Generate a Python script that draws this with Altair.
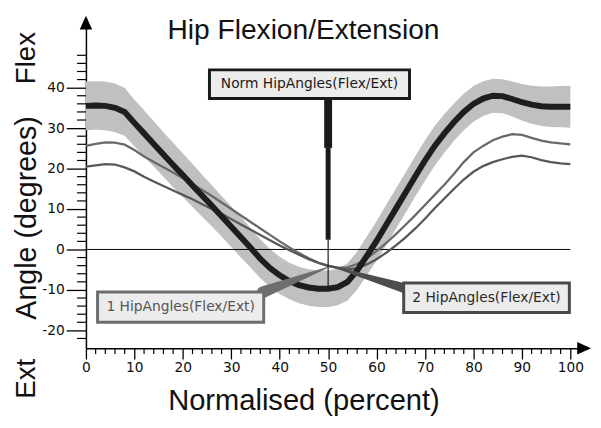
import altair as alt
import pandas as pd

# ---------------- data ----------------
x_pct = list(range(0, 101, 2))
norm_mean = [35.5, 35.6, 35.5, 35.0, 34.0, 31.3, 28.7, 26.1, 23.5, 20.9,
             18.4, 15.8, 13.3, 10.8, 8.2, 5.6, 3.0, 0.4, -2.3, -4.6,
             -6.4, -7.8, -8.8, -9.4, -9.7, -9.7, -9.3, -8.0, -5.2, -1.6,
             2.1, 6.1, 10.1, 14.1, 18.1, 22.0, 25.6, 28.7, 31.5, 34.0,
             36.0, 37.3, 38.0, 37.9, 37.2, 36.4, 35.8, 35.4, 35.3, 35.3, 35.3]
norm_sd = [6.0, 6.0, 6.0, 6.0, 5.9,
           5.8, 5.7, 5.6, 5.5, 5.5, 5.4,
           5.3, 5.2, 5.1, 5.0, 5.0, 5.0, 4.9, 4.8, 4.7, 4.6,
           4.5, 4.5, 4.5, 4.5, 4.5, 4.5, 4.6, 4.7, 4.8, 4.9,
           5.0, 5.0, 5.0, 5.0, 5.0, 4.9, 4.8, 4.6, 4.5, 4.4,
           4.3, 4.2, 4.2, 4.3, 4.5, 4.7, 4.9, 5.0, 5.1, 5.2]
hip1 = [25.6, 26.1, 26.5, 26.4, 25.9, 24.6, 23.0, 21.6, 20.3, 19.0,
        17.6, 16.2, 14.7, 13.2, 11.6, 10.0, 8.4, 6.8, 5.2, 3.6,
        2.0, 0.5, -0.9, -2.2, -3.3, -4.1, -4.5, -4.4, -3.6, -2.2,
        -0.4, 1.6, 3.8, 6.1, 8.5, 11.0, 13.5, 16.0, 18.7, 21.6,
        24.0, 25.6, 27.0, 27.9, 28.5, 28.3, 27.6, 26.9, 26.5, 26.2, 26.0]
hip2 = [20.5, 20.8, 21.1, 21.0, 20.3, 19.3, 18.0, 16.8, 15.7, 14.6,
        13.5, 12.4, 11.2, 10.0, 8.8, 7.5, 6.2, 4.9, 3.6, 2.3,
        1.0, -0.2, -1.3, -2.4, -3.3, -4.0, -4.6, -4.9, -4.6, -3.7,
        -2.4, -0.8, 1.0, 3.0, 5.2, 7.6, 10.2, 12.6, 15.0, 17.3,
        19.2, 20.6, 21.6, 22.3, 22.9, 23.2, 22.8, 22.1, 21.6, 21.3, 21.1]

x_major = [0, 10, 20, 30, 40, 50, 60, 70, 80, 90, 100]
x_minor = [v for v in range(0, 101, 2) if v % 10 != 0]
y_major = [-20, -10, 0, 10, 20, 30, 40]
y_minor = [v for v in range(-22, 49, 2) if v % 10 != 0]

# callouts
box_labels = ["Norm HipAngles(Flex/Ext)", "1 HipAngles(Flex/Ext)", "2 HipAngles(Flex/Ext)"]
box_x1 = [25.5, 2.4, 65.6]
box_x2 = [66.8, 36.7, 99.8]
box_y1 = [37.3, -10.5, -8.3]
box_y2 = [44.4, -18.0, -15.6]
box_stroke = ["#1a1a1a", "#6e6e6e", "#4a4a4a"]
box_text = ["#1a1a1a", "#555555", "#2a2a2a"]

# wedge pointers (trail): id, x, y, width
wedge_id = ["w1", "w1", "w2", "w2"]
wedge_x = [36.5, 50.0, 65.8, 50.6]
wedge_y = [-10.6, -4.4, -9.6, -4.1]
wedge_w = [12, 1, 10, 1]
wedge_col = ["#6e6e6e", "#6e6e6e", "#4d4d4d", "#4d4d4d"]

# norm pointer (stepped)
np_y1 = [37.3, 25.1, 2.4]
np_y2 = [25.1, 2.4, -9.7]
np_w = [8, 5, 1.2]

# ---------------- frames ----------------
df = pd.DataFrame({"pct": x_pct, "mean": norm_mean, "sd": norm_sd})
df["lo"] = df["mean"] - df["sd"]
df["hi"] = df["mean"] + df["sd"]
lines = pd.DataFrame({
    "pct": x_pct * 2,
    "val": hip1 + hip2,
    "series": ["1"] * len(x_pct) + ["2"] * len(x_pct),
})
boxes = pd.DataFrame({"x1": box_x1, "x2": box_x2, "y1": box_y1, "y2": box_y2,
                      "label": box_labels, "stroke": box_stroke, "tcol": box_text})
boxes["xc"] = (boxes["x1"] + boxes["x2"]) / 2
boxes["yc"] = (boxes["y1"] + boxes["y2"]) / 2
wedges = pd.DataFrame({"id": wedge_id, "x": wedge_x, "y": wedge_y, "w": wedge_w,
                       "col": wedge_col, "o": [0, 1, 0, 1]})
npdf = pd.DataFrame({"x": [50] * 3, "y1": np_y1, "y2": np_y2, "w": np_w})

W, H = 508, 335
xscale = alt.Scale(domain=[0, 103.46], nice=False, zero=False)
yscale = alt.Scale(domain=[-24.4, 57.3], nice=False, zero=False)
FONT = "Liberation Sans"

xaxis = alt.Axis(values=x_major, tickSize=11, tickColor="black", tickWidth=1.3,
                 domainColor="black", domainWidth=1.5, labelFont="DejaVu Sans",
                 labelFontSize=14, labelColor="#111111", labelPadding=2, grid=False,
                 title=None, labelFlush=False, labelOverlap=False)
yaxis = alt.Axis(values=y_major, tickSize=20, tickColor="black", tickWidth=1.3,
                 domainColor="black", domainWidth=1.5, labelFont="DejaVu Sans",
                 labelFontSize=14, labelColor="#111111", labelPadding=2, grid=False,
                 title=None, labelExpr="datum.value + ''", labelOverlap=False)


def X(f):
    return alt.X(f, type="quantitative", scale=xscale, axis=xaxis, title=None)


def Y(f):
    return alt.Y(f, type="quantitative", scale=yscale, axis=yaxis, title=None)


band = alt.Chart(df).mark_area(color="#c0c0c0", opacity=1).encode(
    x=X("pct"), y=Y("lo"), y2="hi")

zero = alt.Chart(pd.DataFrame({"a": [0], "b": [100], "y": [0]})).mark_rule(
    color="black", strokeWidth=1).encode(x=X("a"), x2="b", y=Y("y"))

grey = alt.Chart(lines).mark_line(strokeWidth=2.3).encode(
    x=X("pct"), y=Y("val"),
    color=alt.Color("series:N", scale=alt.Scale(domain=["1", "2"], range=["#6a6a6a", "#585858"]),
                    legend=None))

normline = alt.Chart(df).mark_line(color="#1e1e1e", strokeWidth=6).encode(
    x=X("pct"), y=Y("mean"))

npointer = alt.Chart(npdf).mark_rule(color="#1a1a1a").encode(
    x=X("x"), y=Y("y1"), y2="y2", strokeWidth=alt.StrokeWidth("w:Q", scale=None))

wedge = alt.Chart(wedges).mark_trail().encode(
    x=X("x"), y=Y("y"), detail="id:N", order="o:Q",
    size=alt.Size("w:Q", scale=None, legend=None),
    color=alt.Color("col:N", scale=None))

rect = alt.Chart(boxes).mark_rect(fill="#ececec", strokeWidth=3).encode(
    x=X("x1"), x2="x2", y=Y("y1"), y2="y2",
    stroke=alt.Stroke("stroke:N", scale=None))

rtext = alt.Chart(boxes).mark_text(font="DejaVu Sans", fontSize=14, baseline="middle",
                                   align="center").encode(
    x=X("xc"), y=Y("yc"), text="label:N", color=alt.Color("tcol:N", scale=None))

ymin = alt.Chart(pd.DataFrame({"v": y_minor})).mark_rule(color="black", strokeWidth=1.2).encode(
    y=Y("v"), x=alt.value(-9), x2=alt.value(0))
xmin = alt.Chart(pd.DataFrame({"v": x_minor})).mark_rule(color="black", strokeWidth=1.2).encode(
    x=X("v"), y=alt.value(H), y2=alt.value(H + 6))

one = pd.DataFrame({"a": [0]})
arrow_up = alt.Chart(one).mark_point(shape="M0,-1L0.9,1L-0.9,1Z", filled=True, size=196,
                                     color="black", opacity=1).encode(
    x=alt.value(0), y=alt.value(5))
arrow_right = alt.Chart(one).mark_point(shape="M1,0L-1,-0.9L-1,0.9Z", filled=True, size=196,
                                        color="black", opacity=1).encode(
    x=alt.value(505), y=alt.value(H))

title = alt.Chart(one).mark_text(text="Hip Flexion/Extension", font=FONT, fontSize=28.5,
                                 align="center", baseline="alphabetic", color="#111111").encode(
    x=alt.value(220.5), y=alt.value(22))
xtitle = alt.Chart(one).mark_text(text="Normalised (percent)", font=FONT, fontSize=29.5,
                                  align="center", baseline="alphabetic", color="#111111").encode(
    x=alt.value(221), y=alt.value(398))
yt_flex = alt.Chart(one).mark_text(text="Flex", font=FONT, fontSize=28, angle=270,
                                   align="center", baseline="alphabetic", color="#111111").encode(
    x=alt.value(-52), y=alt.value(41))
yt_angle = alt.Chart(one).mark_text(text="Angle (degrees)", font=FONT, fontSize=29, angle=270,
                                    align="center", baseline="alphabetic", color="#111111").encode(
    x=alt.value(-51), y=alt.value(203))
yt_ext = alt.Chart(one).mark_text(text="Ext", font=FONT, fontSize=28, angle=270,
                                  align="center", baseline="alphabetic", color="#111111").encode(
    x=alt.value(-52), y=alt.value(366))

chart = alt.layer(
    band, zero, grey, normline, npointer, wedge, rect, rtext,
    ymin, xmin, arrow_up, arrow_right, title, xtitle, yt_flex, yt_angle, yt_ext
).properties(
    width=W, height=H,
    autosize=alt.AutoSizeParams(type="none"),
    padding={"left": 79, "top": 7, "right": 6, "bottom": 70},
    background="white",
).configure_view(stroke=None)

chart.save("out.html", embed_options={"renderer": "svg", "actions": False})
